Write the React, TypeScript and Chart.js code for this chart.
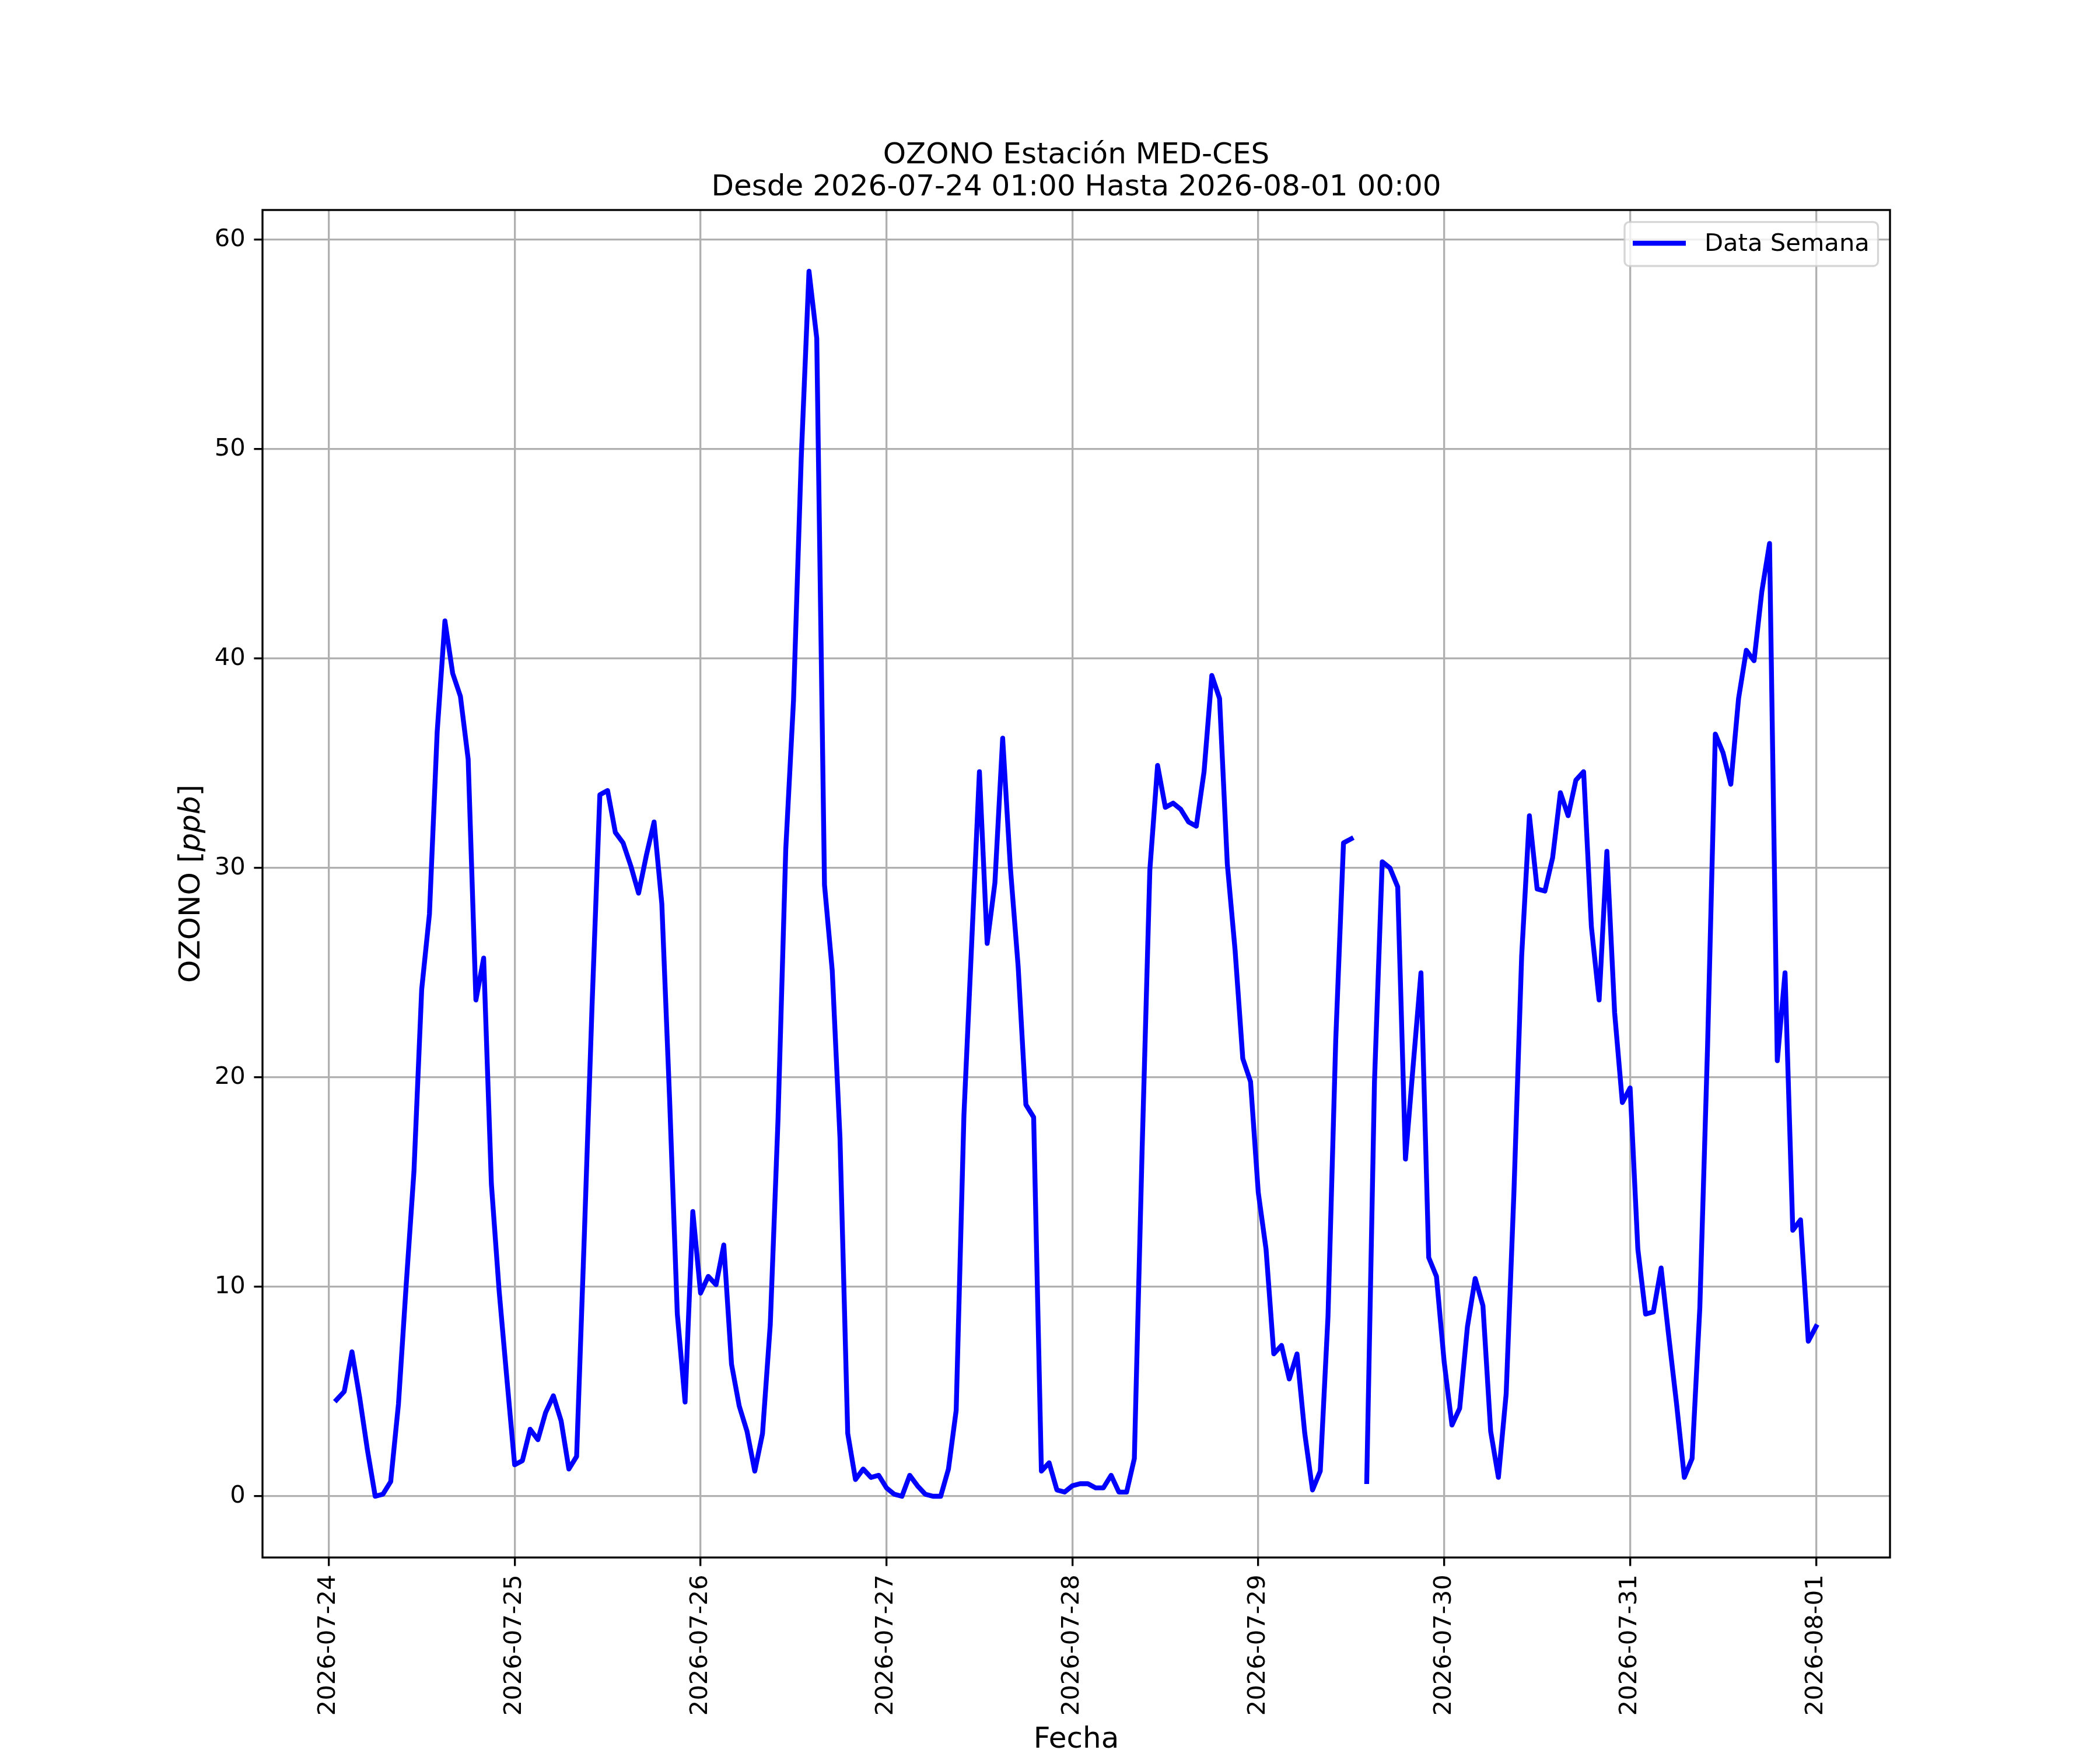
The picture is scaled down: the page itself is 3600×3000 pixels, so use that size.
import { useEffect, useRef } from 'react';
import { Chart, registerables } from 'chart.js';

Chart.register(...registerables);

// hourly ozone, each block runs 01:00 of the day -> 00:00 of the next day
const o3_0724 = [4.6, 5.0, 6.9, 4.7, 2.2, 0.0, 0.1, 0.7, 4.4, 10.1, 15.5, 24.2, 27.8, 36.5, 41.8, 39.3, 38.2, 35.2, 23.7, 25.7, 14.9, 9.8, 5.6, 1.5];
const o3_0725 = [1.7, 3.2, 2.7, 4.0, 4.8, 3.6, 1.3, 1.9, 12.5, 23.5, 33.5, 33.7, 31.7, 31.2, 30.1, 28.8, 30.6, 32.2, 28.3, 19.0, 8.7, 4.5, 13.6, 9.7];
const o3_0726 = [10.5, 10.1, 12.0, 6.3, 4.3, 3.1, 1.2, 3.0, 8.2, 18.0, 30.9, 38.0, 49.6, 58.5, 55.3, 29.2, 25.1, 17.1, 3.0, 0.8, 1.3, 0.9, 1.0, 0.4];
const o3_0727 = [0.1, 0.0, 1.0, 0.5, 0.1, 0.0, 0.0, 1.3, 4.1, 18.2, 26.4, 34.6, 26.4, 29.3, 36.2, 30.0, 25.3, 18.7, 18.1, 1.2, 1.6, 0.3, 0.2, 0.5];
const o3_0728 = [0.6, 0.6, 0.4, 0.4, 1.0, 0.2, 0.2, 1.8, 16.5, 29.9, 34.9, 32.9, 33.1, 32.8, 32.2, 32.0, 34.6, 39.2, 38.1, 30.2, 26.1, 20.9, 19.8, 14.5];
const o3_0729 = [11.8, 6.8, 7.2, 5.6, 6.8, 3.0, 0.3, 1.2, 8.6, 21.8, 31.2, 31.4, null, 0.7, 19.8, 30.3, 30.0, 29.1, 16.1, 20.6, 25.0, 11.4, 10.5, 6.4];
const o3_0730 = [3.4, 4.2, 8.1, 10.4, 9.1, 3.1, 0.9, 4.9, 14.5, 25.8, 32.5, 29.0, 28.9, 30.5, 33.6, 32.5, 34.2, 34.6, 27.2, 23.7, 30.8, 23.1, 18.8, 19.5];
const o3_0731 = [11.8, 8.7, 8.8, 10.9, 7.6, 4.4, 0.9, 1.8, 9.0, 21.5, 36.4, 35.5, 34.0, 38.1, 40.4, 39.9, 43.2, 45.5, 20.8, 25.0, 12.7, 13.2, 7.4, 8.1];

// x axis is hours counted from 2026-07-24 00:00
const FIRST_HOUR = 1;
const DAY_TICKS = [0, 24, 48, 72, 96, 120, 144, 168, 192];
const DAY_LABELS = ['2026-07-24', '2026-07-25', '2026-07-26', '2026-07-27', '2026-07-28', '2026-07-29', '2026-07-30', '2026-07-31', '2026-08-01'];
const Y_TICKS = [0, 10, 20, 30, 40, 50, 60];

const TITLE_1 = 'OZONO Estación MED-CES';
const TITLE_2 = 'Desde 2026-07-24 01:00 Hasta 2026-08-01 00:00';
const SERIES_LABEL = 'Data Semana';

const FONT = '"DejaVu Sans"';
const PT = 300 / 72; // px per point at 300 dpi

export default function App() {
  const canvasRef = useRef<HTMLCanvasElement>(null);
  const chartRef = useRef<Chart | null>(null);

  useEffect(() => {
    document.body.style.margin = '0';
    if (!canvasRef.current) return;
    if (chartRef.current) chartRef.current.destroy();

    const values = [o3_0724, o3_0725, o3_0726, o3_0727, o3_0728, o3_0729, o3_0730, o3_0731].flat();
    const points = values.map((v, i) => ({ x: FIRST_HOUR + i, y: v }));

    // matplotlib style 5% margins
    const xs = points.map(p => p.x);
    const xPad = (Math.max(...xs) - Math.min(...xs)) * 0.05;
    const ys = values.filter((v): v is number => v !== null);
    const yPad = (Math.max(...ys) - Math.min(...ys)) * 0.05;

    const frameAndText = {
      id: 'frameAndText',
      afterDraw(chart: Chart) {
        const { ctx, chartArea: a } = chart;
        ctx.save();
        // frame
        ctx.strokeStyle = '#000';
        ctx.lineWidth = 0.8 * PT;
        ctx.strokeRect(a.left, a.top, a.right - a.left, a.bottom - a.top);

        // legend box
        const fs = 10 * PT;
        const lfs = 12 * PT;
        const bx = 2785, by = 380.7, bw = 3219.5 - 2785, bh = 456 - 380.7, r = 8;
        ctx.beginPath();
        ctx.moveTo(bx + r, by);
        ctx.arcTo(bx + bw, by, bx + bw, by + bh, r);
        ctx.arcTo(bx + bw, by + bh, bx, by + bh, r);
        ctx.arcTo(bx, by + bh, bx, by, r);
        ctx.arcTo(bx, by, bx + bw, by, r);
        ctx.closePath();
        ctx.fillStyle = 'rgba(255,255,255,0.8)';
        ctx.fill();
        ctx.strokeStyle = 'rgba(204,204,204,0.8)';
        ctx.lineWidth = 0.8 * PT;
        ctx.stroke();
        ctx.beginPath();
        ctx.moveTo(2799, 417);
        ctx.lineTo(2890, 417);
        ctx.strokeStyle = '#0000ff';
        ctx.lineWidth = 2 * PT;
        ctx.lineCap = 'butt';
        ctx.stroke();
        ctx.fillStyle = '#000';
        ctx.font = `${fs}px ${FONT}`;
        ctx.textAlign = 'left';
        ctx.textBaseline = 'alphabetic';
        ctx.fillText(SERIES_LABEL, 2922, 430);

        // title
        const cx = (a.left + a.right) / 2;
        ctx.font = `${12 * PT}px ${FONT}`;
        ctx.textAlign = 'center';
        ctx.fillText(TITLE_1, cx, 280);
        ctx.fillText(TITLE_2, cx, 335);

        // x label
        ctx.font = `${lfs}px ${FONT}`;
        ctx.fillText('Fecha', cx, 2996);

        // y label: OZONO [ppb] with ppb in math italic
        const parts = [
          { t: 'OZONO ', f: `${lfs}px ${FONT}` },
          { t: '[', f: `${lfs}px ${FONT}` },
          { t: 'ppb', f: `italic ${lfs}px ${FONT}` },
          { t: ']', f: `${lfs}px ${FONT}` },
        ];
        let total = 0;
        const widths = parts.map(p => {
          ctx.font = p.f;
          const w = ctx.measureText(p.t).width;
          total += w;
          return w;
        });
        ctx.translate(342, (a.top + a.bottom) / 2);
        ctx.rotate(-Math.PI / 2);
        ctx.textAlign = 'left';
        let px = -total / 2;
        parts.forEach((p, i) => {
          ctx.font = p.f;
          ctx.fillText(p.t, px, 0);
          px += widths[i];
        });
        ctx.restore();
      },
    };

    chartRef.current = new Chart(canvasRef.current, {
      type: 'line',
      data: {
        datasets: [{
          label: SERIES_LABEL,
          data: points,
          borderColor: '#0000ff',
          borderWidth: 2 * PT,
          pointRadius: 0,
          pointHoverRadius: 0,
          tension: 0,
          fill: false,
          spanGaps: false,
          borderCapStyle: 'square',
          borderJoinStyle: 'round',
        }],
      },
      options: {
        animation: false,
        responsive: false,
        devicePixelRatio: 1,
        events: [],
        layout: { padding: { top: 360, right: 360, left: 0, bottom: 0 } },
        plugins: {
          legend: { display: false },
          tooltip: { enabled: false },
          title: { display: false },
        },
        scales: {
          x: {
            type: 'linear',
            min: Math.min(...xs) - xPad,
            max: Math.max(...xs) + xPad,
            afterBuildTicks: (scale: any) => {
              scale.ticks = DAY_TICKS.map(v => ({ value: v }));
            },
            afterFit: (scale: any) => {
              scale.height = 330;
            },
            ticks: {
              autoSkip: false,
              minRotation: 90,
              maxRotation: 90,
              padding: 3.5 * PT,
              color: '#000',
              font: { family: FONT, size: 10 * PT },
              callback: (_v: any, i: number) => DAY_LABELS[i],
            },
            grid: {
              color: '#b0b0b0',
              lineWidth: 0.8 * PT,
              tickColor: '#000',
              tickLength: 3.5 * PT,
              tickWidth: 0.8 * PT,
            },
            border: { display: false },
          },
          y: {
            type: 'linear',
            min: Math.min(...ys) - yPad,
            max: Math.max(...ys) + yPad,
            afterBuildTicks: (scale: any) => {
              scale.ticks = Y_TICKS.map(v => ({ value: v }));
            },
            afterFit: (scale: any) => {
              scale.width = 450;
            },
            ticks: {
              padding: 3.5 * PT,
              color: '#000',
              font: { family: FONT, size: 10 * PT },
              callback: (v: any) => String(v),
            },
            grid: {
              color: '#b0b0b0',
              lineWidth: 0.8 * PT,
              tickColor: '#000',
              tickLength: 3.5 * PT,
              tickWidth: 0.8 * PT,
            },
            border: { display: false },
          },
        },
      },
      plugins: [frameAndText],
    });

    return () => {
      if (chartRef.current) {
        chartRef.current.destroy();
        chartRef.current = null;
      }
    };
  }, []);

  return (
    <div style={{ width: 3600, height: 3000, background: '#fff' }}>
      <canvas ref={canvasRef} width={3600} height={3000} style={{ display: 'block', width: 3600, height: 3000 }} />
    </div>
  );
}
